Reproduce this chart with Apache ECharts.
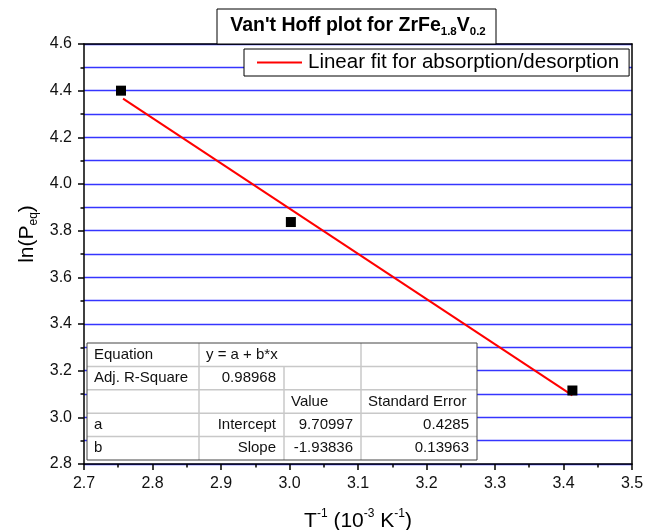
<!DOCTYPE html>
<html>
<head>
<meta charset="utf-8">
<script src="https://cdn.jsdelivr.net/npm/echarts@6/dist/echarts.min.js"></script>
<style>
	html, body { margin: 0; padding: 0; background: #fff; }
	#main { width: 655px; height: 530px; }
</style>
</head>
<body>
<div id="main"></div>
<script>
// measured points (T^-1 in 10^-3 K^-1, ln(Peq))
var invT = [2.754, 3.002, 3.413];
var lnP = [4.40, 3.837, 3.115];
// ends of the fitted line
var fitX = [2.757, 3.413];
var fitY = [4.366, 3.094];

// fit report table
var tableRows = [
	['Equation', 'y = a + b*x', '', ''],
	['Adj. R-Square', '0.98968', '', ''],
	['', '', 'Value', 'Standard Error'],
	['a', 'Intercept', '9.70997', '0.4285'],
	['b', 'Slope', '-1.93836', '0.13963']
];

var chart = echarts.init(document.getElementById('main'));
var FONT = 'Liberation Sans, Arial, sans-serif';

/*表格*/
function buildTable() {
	var x0 = 87, y0 = 343, rowH = 23.4;
	var cols = [87, 199, 284, 361, 477];
	var right = [false, true, true, true];
	var els = [];
	var h = rowH * tableRows.length;
	els.push({
		type: 'rect', z: 50,
		shape: { x: x0, y: y0, width: cols[4] - x0, height: h },
		style: { fill: '#fff', stroke: null }
	});
	// row lines
	for (var r = 1; r < tableRows.length; r++) {
		els.push({
			type: 'line', z: 51,
			shape: { x1: x0, y1: y0 + r * rowH, x2: cols[4], y2: y0 + r * rowH },
			style: { stroke: '#c8c8c8', lineWidth: 1.5 }
		});
	}
	// col lines (col 2 joined in first row)
	els.push({ type: 'line', z: 51, shape: { x1: cols[1], y1: y0, x2: cols[1], y2: y0 + h }, style: { stroke: '#c8c8c8', lineWidth: 1.5 } });
	els.push({ type: 'line', z: 51, shape: { x1: cols[2], y1: y0 + rowH, x2: cols[2], y2: y0 + h }, style: { stroke: '#c8c8c8', lineWidth: 1.5 } });
	els.push({ type: 'line', z: 51, shape: { x1: cols[3], y1: y0, x2: cols[3], y2: y0 + h }, style: { stroke: '#c8c8c8', lineWidth: 1.5 } });
	els.push({
		type: 'rect', z: 52,
		shape: { x: x0, y: y0, width: cols[4] - x0, height: h },
		style: { fill: null, stroke: '#444', lineWidth: 1 }
	});
	for (var i = 0; i < tableRows.length; i++) {
		for (var j = 0; j < 4; j++) {
			var t = tableRows[i][j];
			if (!t) continue;
			var alignR = right[j] && !(i == 0) && !(i == 2);
			els.push({
				type: 'text', z: 53,
				x: alignR ? cols[j + 1] - 8 : cols[j] + 7,
				y: y0 + i * rowH + rowH / 2,
				style: {
					text: t, fill: '#111', fontSize: 15, fontFamily: FONT,
					align: alignR ? 'right' : 'left', verticalAlign: 'middle'
				}
			});
		}
	}
	return els;
}

var graphics = [{
	type: 'rect', z: 60,
	shape: { x: 217, y: 9, width: 279, height: 35 },
	style: { fill: '#fff', stroke: '#000', lineWidth: 1 }
}, {
	type: 'text', z: 61,
	x: 358, y: 26,
	style: {
		text: "{b|Van't Hoff plot for ZrFe}{s|1.8}{b|V}{s|0.2}",
		align: 'center', verticalAlign: 'middle',
		rich: {
			b: { fontSize: 19.5, fontWeight: 'bold', fontFamily: FONT, fill: '#000', lineHeight: 24, verticalAlign: 'middle' },
			s: { fontSize: 11.5, fontWeight: 'bold', fontFamily: FONT, fill: '#000', lineHeight: 9, verticalAlign: 'bottom' }
		}
	}
}, {
	// y axis title, placed by hand like the original
	type: 'text', z: 20,
	x: 27, y: 234, rotation: Math.PI / 2,
	style: {
		text: '{t|ln(P}{s|eq}{t|)}',
		align: 'center', verticalAlign: 'middle',
		rich: {
			t: { fontSize: 21, fontFamily: FONT, fill: '#000', lineHeight: 26, verticalAlign: 'middle' },
			s: { fontSize: 12, fontFamily: FONT, fill: '#000', lineHeight: 9, verticalAlign: 'bottom' }
		}
	}
}].concat(buildTable());

var option = {
	animation: false,
	backgroundColor: '#fff',
	grid: { left: 84, right: 23, top: 44, bottom: 66, show: false, outerBoundsMode: 'none', containLabel: false },
	legend: {
		left: 244, top: 49,
		padding: [3, 10, 3, 13],
		itemWidth: 45, itemHeight: 2,
		icon: 'rect',
		itemGap: 6,
		backgroundColor: '#fff',
		borderColor: '#000', borderWidth: 1,
		textStyle: { fontSize: 20.5, fontFamily: FONT, color: '#000', padding: [0, 0, 0, 1] },
		data: ['Linear fit for absorption/desorption'],
		z: 40
	},
	xAxis: [{
		type: 'value', min: 2.7, max: 3.5, interval: 0.1,
		z: 5,
		name: '{t|T}{p|-1}{t| (10}{p|-3}{t| K}{p|-1}{t|)}',
		nameLocation: 'middle', nameGap: 44,
		nameTextStyle: {
			rich: {
				t: { fontSize: 21, fontFamily: FONT, color: '#000', lineHeight: 26, verticalAlign: 'middle' },
				p: { fontSize: 12, fontFamily: FONT, color: '#000', lineHeight: 9, verticalAlign: 'top' }
			}
		},
		axisLine: { lineStyle: { color: '#000', width: 1.5 } },
		axisTick: { inside: false, length: 6, lineStyle: { color: '#000', width: 1.5 } },
		minorTick: { show: true, splitNumber: 2, length: 3.5, lineStyle: { color: '#000', width: 1.5 } },
		axisLabel: { fontSize: 16, fontFamily: FONT, color: '#111', margin: 12, formatter: function(v) { return v.toFixed(1); } },
		splitLine: { show: false }
	}, {
		type: 'value', min: 2.7, max: 3.5, position: 'top', z: 5,
		axisLine: { show: true, onZero: false, lineStyle: { color: '#000', width: 1.5 } },
		axisTick: { show: false }, axisLabel: { show: false }, splitLine: { show: false }
	}],
	yAxis: [{
		type: 'value', min: 2.8, max: 4.6, interval: 0.2,
		z: 4,
		axisLine: { show: true, lineStyle: { color: '#000', width: 1.5 } },
		axisTick: { show: true, inside: false, length: 6, lineStyle: { color: '#000', width: 1.5 } },
		minorTick: { show: true, splitNumber: 2, length: 3.5, lineStyle: { color: '#000', width: 1.5 } },
		axisLabel: { fontSize: 16, fontFamily: FONT, color: '#111', margin: 12, formatter: function(v) { return v.toFixed(1); } },
		splitLine: { show: false }
	}, {
		// right frame, also carries the blue grid every 0.1
		type: 'value', min: 2.8, max: 4.6, interval: 0.1, position: 'right', z: 3,
		axisLine: { show: true, onZero: false, lineStyle: { color: '#000', width: 1.5 } },
		axisTick: { show: false }, axisLabel: { show: false },
		splitLine: { show: true, lineStyle: { color: '#3535ff', width: 1.3 } }
	}],
	series: [{
		name: 'data',
		type: 'scatter',
		symbol: 'rect', symbolSize: 10,
		itemStyle: { color: '#000', opacity: 1 },
		z: 10,
		data: invT.map(function(x, i) { return [x, lnP[i]]; })
	}, {
		name: 'Linear fit for absorption/desorption',
		type: 'line',
		symbol: 'none',
		lineStyle: { color: '#ff0000', width: 2 },
		itemStyle: { color: '#ff0000' },
		z: 9,
		data: fitX.map(function(x, i) { return [x, fitY[i]]; })
	}],
	graphic: graphics
};

chart.setOption(option);
</script>
</body>
</html>
